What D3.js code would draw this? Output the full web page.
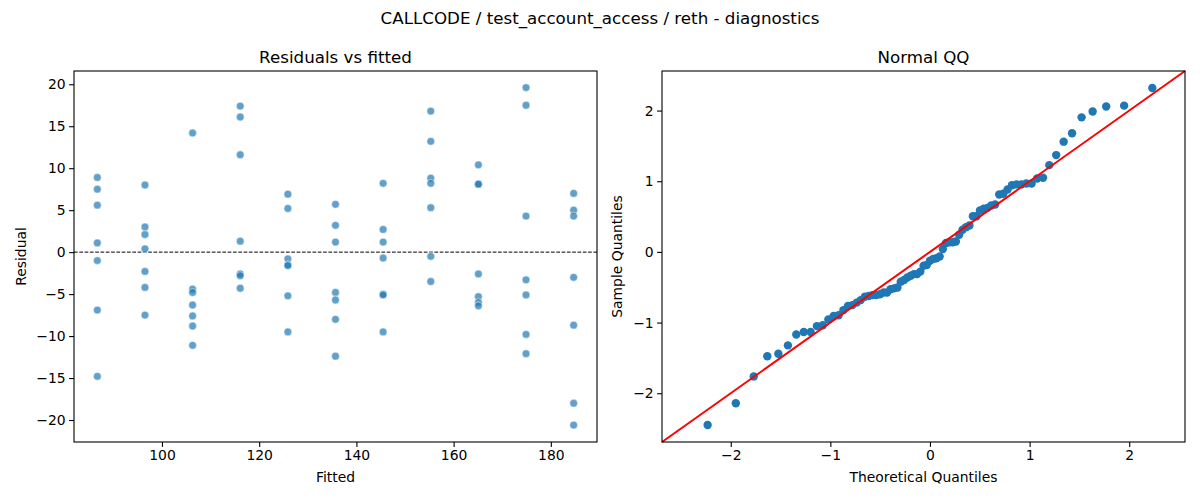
<!DOCTYPE html>
<html>
<head>
<meta charset="utf-8">
<script src="https://cdn.jsdelivr.net/npm/d3@7"></script>
<style>
  body { margin: 0; background: #fff; }
  svg text { font-family: "DejaVu Sans", sans-serif; fill: #000; }
</style>
</head>
<body>
<svg id="chart" width="1200" height="500"></svg>
<script>
// Residuals vs fitted: one fitted value per group, residuals
const fitted = [86.7, 96.5, 106.3, 116.1, 125.9, 135.7, 145.5, 155.3, 165.1, 174.9, 184.7];
const residualsByGroup = [
    [8.9, 7.5, 5.6, 1.1, -1.0, -6.9, -14.8],
    [8.0, 3.0, 2.1, 0.4, -2.3, -4.2, -7.5],
    [14.2, -4.4, -4.8, -6.3, -7.6, -8.8, -11.1],
    [17.4, 16.1, 11.6, 1.3, -2.6, -2.8, -4.3],
    [6.9, 5.2, -0.8, -1.5, -1.6, -5.2, -9.5],
    [5.7, 3.2, 1.2, -4.8, -5.7, -8.0, -12.4],
    [8.2, 2.7, 1.2, -0.7, -5.0, -5.1, -9.5],
    [16.8, 13.2, 8.8, 8.2, 5.3, -0.5, -3.5],
    [10.4, 8.1, 8.1, -2.6, -5.3, -6.0, -6.4],
    [19.6, 17.5, 4.3, -3.3, -5.1, -9.8, -12.1],
    [7.0, 5.0, 4.3, -3.0, -8.7, -18.0, -20.6]
];
const fittedTicks = [100, 120, 140, 160, 180];
const residualTicks = [-20, -15, -10, -5, 0, 5, 10, 15, 20];

// Normal QQ: theoretical vs sample quantiles (sorted, standardized)
const theoreticalQuantiles = [
    -2.232, -1.949, -1.769, -1.633, -1.522, -1.426, -1.342, -1.267, -1.198, -1.135,
    -1.076, -1.020, -0.967, -0.917, -0.869, -0.823, -0.779, -0.736, -0.695, -0.654,
    -0.615, -0.577, -0.539, -0.502, -0.466, -0.431, -0.396, -0.361, -0.327, -0.293,
    -0.260, -0.227, -0.194, -0.161, -0.129, -0.097, -0.064, -0.032, 0.000,
    0.032, 0.064, 0.097, 0.129, 0.161, 0.194, 0.227, 0.260, 0.293, 0.327,
    0.361, 0.396, 0.431, 0.466, 0.502, 0.539, 0.577, 0.615, 0.654, 0.695,
    0.736, 0.779, 0.823, 0.869, 0.917, 0.967, 1.020, 1.076, 1.135, 1.198,
    1.267, 1.342, 1.426, 1.522, 1.633, 1.769, 1.949, 2.232
];
const sampleQuantiles = [
    -2.450, -2.141, -1.762, -1.477, -1.441, -1.323, -1.168, -1.133, -1.133, -1.050,
    -1.038, -0.955, -0.907, -0.896, -0.824, -0.765, -0.753, -0.718, -0.682, -0.635,
    -0.623, -0.611, -0.611, -0.599, -0.575, -0.575, -0.528, -0.516, -0.504, -0.421,
    -0.397, -0.362, -0.338, -0.314, -0.314, -0.279, -0.196, -0.184, -0.125,
    -0.101, -0.089, -0.065, 0.042, 0.125, 0.136, 0.136, 0.148, 0.243, 0.314,
    0.350, 0.374, 0.504, 0.504, 0.587, 0.611, 0.623, 0.658, 0.670, 0.813,
    0.824, 0.884, 0.943, 0.955, 0.955, 0.967, 0.967, 1.038, 1.050, 1.228,
    1.370, 1.560, 1.679, 1.904, 1.987, 2.058, 2.070, 2.319
];
const qqTicks = [-2, -1, 0, 1, 2];
const qqLimits = [-2.69, 2.56];

const blue = "#1f77b4";
const svg = d3.select("#chart");

svg.append("text")
    .attr("x", 600).attr("y", 24)
    .attr("text-anchor", "middle")
    .style("font-size", "16.7px")
    .text("CALLCODE / test_account_access / reth - diagnostics");

// draws frame, ticks, labels for one panel
function drawAxes(g, x, y, xTicks, yTicks, title, xLabel, yLabel, yLabelX) {
    const [x0, x1] = x.range();
    const [y0, y1] = y.range();
    const fmt = d => String(d).replace("-", "\u2212");

    g.append("g")
        .attr("transform", `translate(0,${y0})`)
        .call(d3.axisBottom(x).tickValues(xTicks).tickFormat(fmt).tickSizeOuter(0).tickSize(4.9).tickPadding(3.5))
        .call(a => a.select(".domain").remove());
    g.append("g")
        .attr("transform", `translate(${x0},0)`)
        .call(d3.axisLeft(y).tickValues(yTicks).tickFormat(fmt).tickSizeOuter(0).tickSize(4.9).tickPadding(3.5))
        .call(a => a.select(".domain").remove());
    g.selectAll(".tick text").style("font-size", "13.9px").attr("fill", "#000");
    g.selectAll(".tick line").attr("stroke", "#000").attr("stroke-width", 1.1);

    g.append("rect")
        .attr("x", x0).attr("y", y1)
        .attr("width", x1 - x0).attr("height", y0 - y1)
        .attr("fill", "none").attr("stroke", "#000").attr("stroke-width", 1.1);

    g.append("text")
        .attr("x", (x0 + x1) / 2).attr("y", y1 - 8)
        .attr("text-anchor", "middle")
        .style("font-size", "16.7px")
        .text(title);
    g.append("text")
        .attr("x", (x0 + x1) / 2).attr("y", y0 + 40)
        .attr("text-anchor", "middle")
        .style("font-size", "13.9px")
        .text(xLabel);
    g.append("text")
        .attr("transform", `translate(${yLabelX},${(y0 + y1) / 2}) rotate(-90)`)
        .attr("text-anchor", "middle")
        .style("font-size", "13.9px")
        .text(yLabel);
}

// ---- left panel: residuals vs fitted
const left = svg.append("g");
const xRes = d3.scaleLinear().domain([81.9, 189.5]).range([74, 597]);
const yRes = d3.scaleLinear().domain([-22.62, 21.58]).range([442, 71]);

const resPoints = [];
fitted.forEach((f, i) => residualsByGroup[i].forEach(r => resPoints.push({ f, r })));

left.append("line")
    .attr("x1", xRes.range()[0]).attr("x2", xRes.range()[1])
    .attr("y1", yRes(0)).attr("y2", yRes(0))
    .attr("stroke", "#000").attr("stroke-width", 1)
    .attr("stroke-dasharray", "3.7,1.6");

left.selectAll("circle")
    .data(resPoints)
    .enter()
    .append("circle")
    .attr("cx", d => xRes(d.f))
    .attr("cy", d => yRes(d.r))
    .attr("r", 3.9)
    .attr("fill", blue)
    .attr("fill-opacity", 0.7)
    .attr("stroke", "#fff")
    .attr("stroke-opacity", 0.7)
    .attr("stroke-width", 0.7);

drawAxes(left, xRes, yRes, fittedTicks, residualTicks,
    "Residuals vs fitted", "Fitted", "Residual", 26);

// ---- right panel: normal QQ
const right = svg.append("g");
const xQQ = d3.scaleLinear().domain(qqLimits).range([662, 1185]);
const yQQ = d3.scaleLinear().domain(qqLimits).range([442, 71]);

right.selectAll("circle")
    .data(theoreticalQuantiles.map((t, i) => ({ t, s: sampleQuantiles[i] })))
    .enter()
    .append("circle")
    .attr("cx", d => xQQ(d.t))
    .attr("cy", d => yQQ(d.s))
    .attr("r", 4.2)
    .attr("fill", blue);

right.append("line")
    .attr("x1", xQQ(qqLimits[0])).attr("y1", yQQ(qqLimits[0]))
    .attr("x2", xQQ(qqLimits[1])).attr("y2", yQQ(qqLimits[1]))
    .attr("stroke", "red").attr("stroke-width", 2);

drawAxes(right, xQQ, yQQ, qqTicks, qqTicks,
    "Normal QQ", "Theoretical Quantiles", "Sample Quantiles", 622);
</script>
</body>
</html>
